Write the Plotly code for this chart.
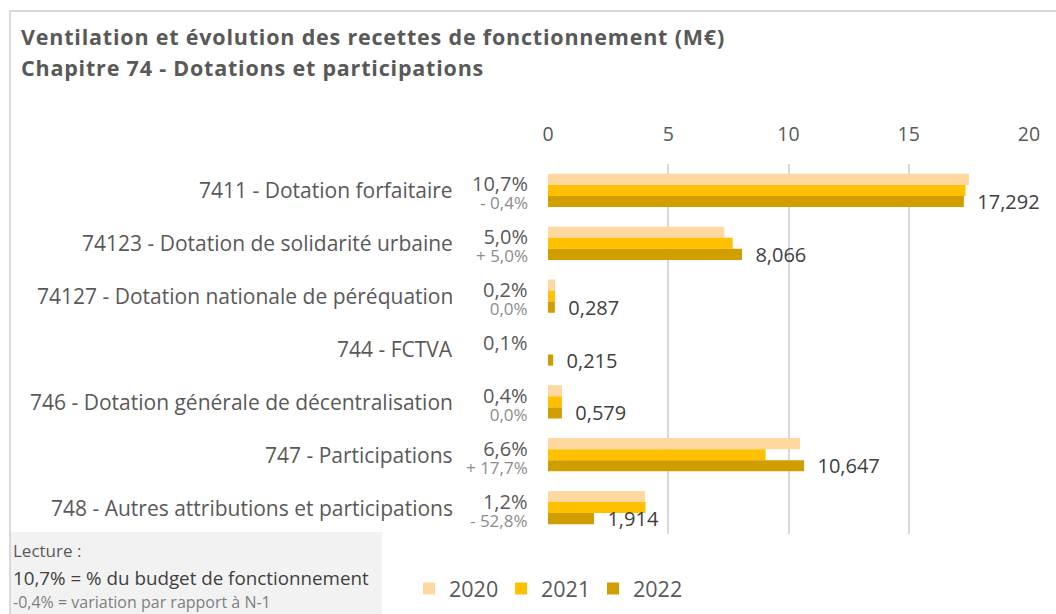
import plotly.graph_objects as go

# --- data ---
categories = [
    "7411 - Dotation forfaitaire",
    "74123 - Dotation de solidarité urbaine",
    "74127 - Dotation nationale de péréquation",
    "744 - FCTVA",
    "746 - Dotation générale de décentralisation",
    "747 - Participations",
    "748 - Autres attributions et participations",
]
years = ["2020", "2021", "2022"]
values_2020 = [17.50, 7.33, 0.29, None, 0.58, 10.48, 4.03]
values_2021 = [17.36, 7.68, 0.287, None, 0.579, 9.05, 4.055]
values_2022 = [17.292, 8.066, 0.287, 0.215, 0.579, 10.647, 1.914]
share_budget = ["10,7%", "5,0%", "0,2%", "0,1%", "0,4%", "6,6%", "1,2%"]
variation = ["- 0,4%", "+ 5,0%", "0,0%", "", "0,0%", "+ 17,7%", "- 52,8%"]
x_ticks = [0, 5, 10, 15, 20]

colors = ["#FFD8A0", "#FFC000", "#D19E00"]
FONT = "Open Sans"

# figure geometry (pixels)
FW, FH = 1056, 614
L, R, T, B = 548, 27, 164, 80
PW, PH = FW - L - R, FH - T - B


def px_x(x):
    return (x - L) / PW


def px_y(y):
    return (FH - B - y) / PH


fig = go.Figure()
for year, vals, col in zip(years, [values_2020, values_2021, values_2022], colors):
    text = None
    if year == "2022":
        text = ["  " + f"{v:.3f}".replace(".", ",") for v in vals]
    fig.add_trace(go.Bar(
        y=categories, x=vals, name=year, orientation="h",
        marker=dict(color=col, line=dict(width=0)),
        text=text, textposition="outside", constraintext="none",
        textfont=dict(family=FONT, size=20, color="#404040"),
        cliponaxis=False, hoverinfo="skip",
    ))

annotations = []
# category names and percentages at the left of the axis
for cat, pct, var in zip(categories, share_budget, variation):
    annotations.append(dict(
        x=px_x(455), xref="paper", y=cat, yref="y", text=cat,
        xanchor="right", yanchor="middle", showarrow=False,
        font=dict(family=FONT, size=21, color="#595959"),
    ))
    if var:
        txt = (f"<span style='font-size:20px'>{pct}</span><br>"
               f"<span style='font-size:17px;color:#8C8C8C'>{var}</span>")
        shift = -2
    else:
        txt = f"<span style='font-size:20px'>{pct}</span>"
        shift = 7
    annotations.append(dict(
        x=px_x(530), xref="paper", y=cat, yref="y", yshift=shift, text=txt,
        xanchor="right", yanchor="middle", align="right", showarrow=False,
        font=dict(family=FONT, size=14, color="#595959"),
    ))

# title
title_lines = [
    ("Ventilation et évolution des recettes de fonctionnement (M€)", 36),
    ("Chapitre 74 - Dotations et participations", 67),
]
for txt, yy in title_lines:
    annotations.append(dict(
        x=px_x(19), xref="paper", y=px_y(yy), yref="paper", yanchor="middle",
        xanchor="left", showarrow=False,
        text=f"<b><span style='letter-spacing:0.8px'>{txt}</span></b>",
        font=dict(family=FONT, size=21.5, color="#595959"),
    ))

# reading note
notes = [
    ("Lecture :", 550, 17, "#595959"),
    ("10,7% = % du budget de fonctionnement", 578, 18.8, "#404040"),
    ("-0,4% = variation par rapport à N-1", 602, 16, "#7F7F7F"),
]
for txt, yy, size, col in notes:
    annotations.append(dict(
        x=px_x(11), xref="paper", y=px_y(yy), yref="paper", yanchor="middle",
        xanchor="left", showarrow=False, text=txt,
        font=dict(family=FONT, size=size, color=col),
    ))

shapes = [
    dict(type="rect", xref="paper", yref="paper",
         x0=px_x(10), x1=px_x(382), y0=px_y(616), y1=px_y(532),
         fillcolor="#F2F2F2", line=dict(width=0), layer="below"),
    dict(type="rect", xref="paper", yref="paper",
         x0=px_x(10), x1=px_x(1070), y0=px_y(630), y1=px_y(11),
         fillcolor="rgba(0,0,0,0)", line=dict(color="#D9D9D9", width=2)),
]

fig.update_layout(
    width=FW, height=FH,
    margin=dict(l=L, r=R, t=T, b=B, autoexpand=False),
    paper_bgcolor="white", plot_bgcolor="white",
    barmode="group", bargap=0.37, bargroupgap=0,
    font=dict(family=FONT, color="#595959"),
    showlegend=True,
    legend=dict(
        orientation="h", x=px_x(409), y=px_y(568), xanchor="left", yanchor="top",
        font=dict(family=FONT, size=21.5, color="#595959"),
        itemwidth=30, traceorder="normal",
        entrywidth=47, entrywidthmode="pixels",
    ),
    annotations=annotations,
    shapes=shapes,
)
fig.update_xaxes(
    side="top", range=[0, 20], tickvals=x_ticks,
    showgrid=True, gridcolor="#D9D9D9", gridwidth=1.5,
    zeroline=False, showline=False, ticks="",
    tickfont=dict(family=FONT, size=19.5, color="#595959"),
    ticklabelstandoff=18,
)
fig.update_yaxes(
    autorange="reversed", showticklabels=False, showgrid=False,
    zeroline=False, showline=False, ticks="",
)

# the page body has a default margin; remove it so the figure fills the window
fig.write_html("out.html", config={"displayModeBar": False},
               post_script="document.body.style.margin='0';")
